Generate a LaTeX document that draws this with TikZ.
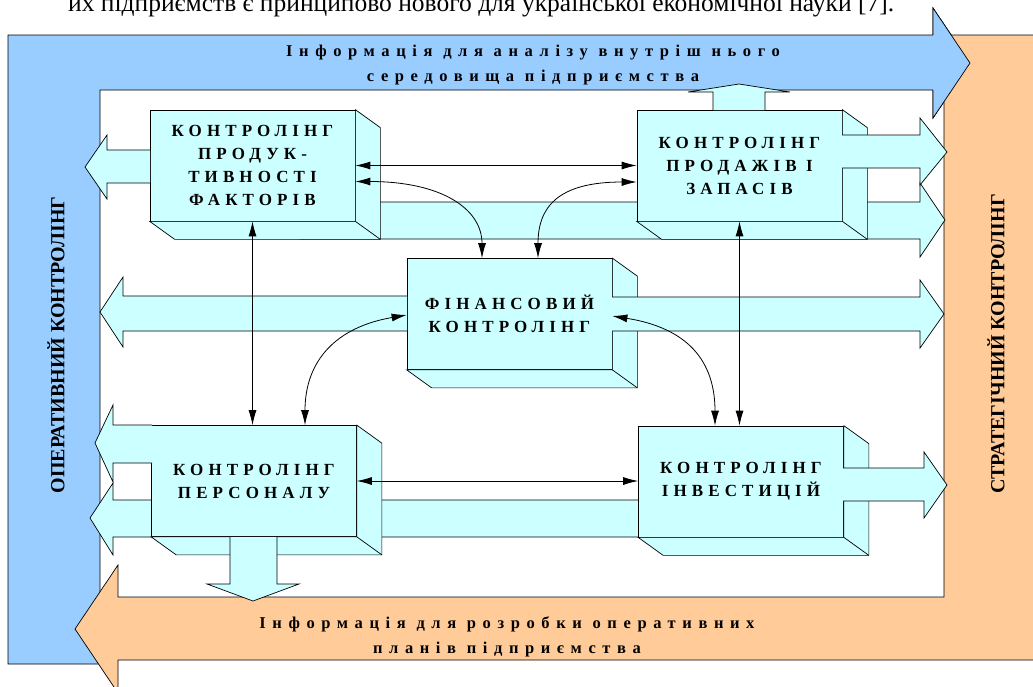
\documentclass[tikz,border=0pt]{standalone}
\usepackage{fontspec}
\setmainfont{Liberation Serif}
\newfontfamily\boxfont[LetterSpace=30]{Liberation Serif}
\newfontfamily\infofont[LetterSpace=40]{Liberation Serif}
\usetikzlibrary{arrows.meta,calc}

\definecolor{opblue}{HTML}{99CCFF}
\definecolor{strorange}{HTML}{FFCC99}
\definecolor{boxcyan}{HTML}{CCFFFF}

\tikzset{
  outline/.style={draw=black, line width=0.7pt, line join=miter},
  blockarrow/.style={outline, fill=boxcyan},
  front/.style={outline, fill=boxcyan, minimum width=205pt, minimum height=111pt,
    inner sep=0pt, align=center, font=\boxfont\bfseries\fontsize{17}{23}\selectfont},
  infotext/.style={align=center, font=\infofont\bfseries\fontsize{16.5}{25}\selectfont},
  sidetext/.style={rotate=90, font=\bfseries\fontsize{20}{24}\selectfont},
  conn/.style={line width=0.8pt, {Latex[length=15pt,width=8pt]}-{Latex[length=15pt,width=8pt]}}
}

\begin{document}
\begin{tikzpicture}[x=1pt, y=-1pt]
    \fill[white] (0,0) rectangle (1033,686);
    \useasboundingbox (0,0) rectangle (1033,686);

    % Рядок тексту сторінки
    \node[anchor=base west, inner sep=0pt, font=\fontsize{25.5}{30}\selectfont] (pagetext) at (68,11)
      {их підприємств є принципово нового для української економічної науки [7].};

    % Оперативний контролінг (синя стрілка)
    \filldraw[outline, fill=opblue] (8,35) -- (933,35) -- (933,8) -- (970,63) -- (933,118)
      -- (933,90) -- (100,90) -- (100,664) -- (8,664) -- cycle;

    % Стратегічний контролінг (помаранчева стрілка)
    \filldraw[outline, fill=strorange] (1040,35) -- (944,35) -- (944,597) -- (118,597)
      -- (118,565) -- (75,629) -- (118,693) -- (118,660) -- (1040,660) -- cycle;
    \filldraw[outline, fill=opblue] (933,35) -- (933,8) -- (970,63) -- (933,118) -- (933,90);

    \node[infotext] (topinfo) at (533,65)
      {Інформація для аналізу внутріш нього\\середовища підприємства};
    \node[infotext] (botinfo) at (507,637)
      {Інформація для розробки оперативних\\планів підприємства};
    \node[sidetext] (oper) at (56,345) {ОПЕРАТИВНИЙ КОНТРОЛІНГ};
    \node[sidetext] (strat) at (996,344) {СТРАТЕГІЧНИЙ КОНТРОЛІНГ};

    % Широкі стрілки за блоками
    \filldraw[blockarrow] (300,202) -- (920,202) -- (920,183) -- (945,220) -- (920,257)
      -- (920,239) -- (300,239) -- cycle;
    \filldraw[blockarrow] (700,500) -- (113,500) -- (113,483) -- (90,518) -- (113,555)
      -- (113,537) -- (700,537) -- cycle;

    % Блоки
    \node[front] (prod) at (252.5,165.5) {КОНТРОЛІНГ\\ПРОДУК-\\ТИВНОСТІ\\ФАКТОРІВ};
    \node[front] (sales) at (739.5,165.5) {КОНТРОЛІНГ\\ПРОДАЖІВ І\\ЗАПАСІВ};
    \node[front] (fin) at (509.5,314) {ФІНАНСОВИЙ\\КОНТРОЛІНГ};
    \node[front] (pers) at (254,481) {КОНТРОЛІНГ\\ПЕРСОНАЛУ};
    \node[front] (inv) at (741,481.5) {КОНТРОЛІНГ\\ІНВЕСТИЦІЙ};

    \foreach \b in {prod,sales,fin,pers,inv} {
      \filldraw[outline, fill=boxcyan] (\b.north east) -- ++(25,18)
        -- ($(\b.south east)+(25,18)$) -- ($(\b.south west)+(25,18)$)
        -- (\b.south west) -- (\b.south east) -- cycle;
      \draw[outline] (\b.south east) -- ++(25,18);
    }

    % Стрілки від блоків
    \filldraw[blockarrow] (150,150) -- (107,150) -- (107,135) -- (85,167) -- (107,199)
      -- (107,183) -- (150,183);
    \filldraw[blockarrow] (842,135) -- (920,135) -- (920,118) -- (947,152) -- (920,185)
      -- (920,168) -- (842,168);
    \filldraw[blockarrow] (713,110) -- (713,92) -- (688,92) -- (739,84) -- (790,92)
      -- (765,92) -- (765,110);
    \filldraw[blockarrow] (407,296) -- (123,296) -- (123,277) -- (100,312) -- (123,347)
      -- (123,331) -- (407,331);
    \filldraw[blockarrow] (612,297) -- (920,297) -- (920,280) -- (944,314) -- (920,348)
      -- (920,331) -- (612,331);
    \filldraw[blockarrow] (152,425) -- (113,425) -- (113,405) -- (95,443) -- (113,482)
      -- (113,463) -- (152,463);
    \filldraw[blockarrow] (230,537) -- (230,584) -- (207,584) -- (253,601) -- (299,584)
      -- (277,584) -- (277,537);
    \filldraw[blockarrow] (843,468) -- (924,468) -- (924,452) -- (947,485) -- (924,518)
      -- (924,501) -- (843,501);

    % Зв'язки між блоками
    \draw[conn] (prod.east) -- (prod.east -| sales.west);
    \draw[conn] ([yshift=-16pt]prod.east) .. controls +(85,0) and +(0,-50) .. ([xshift=-27.5pt]fin.north);
    \draw[conn] ([yshift=-16.5pt]sales.west) .. controls +(-80,0) and +(0,-50) .. ([xshift=28.5pt]fin.north);
    \draw[conn] (prod.south) -- (prod.south |- pers.north);
    \draw[conn] (sales.south) -- (sales.south |- inv.north);
    \draw[conn] ([yshift=-1pt]fin.west) .. controls +(-70,12) and +(0,-65) .. ([xshift=51pt]pers.north);
    \draw[conn] ([yshift=-2pt]fin.east) .. controls +(75,12) and +(0,-65) .. ([xshift=-26pt]inv.north);
    \draw[conn] (pers.east) -- (pers.east -| inv.west);
  \end{tikzpicture}
\end{document}
